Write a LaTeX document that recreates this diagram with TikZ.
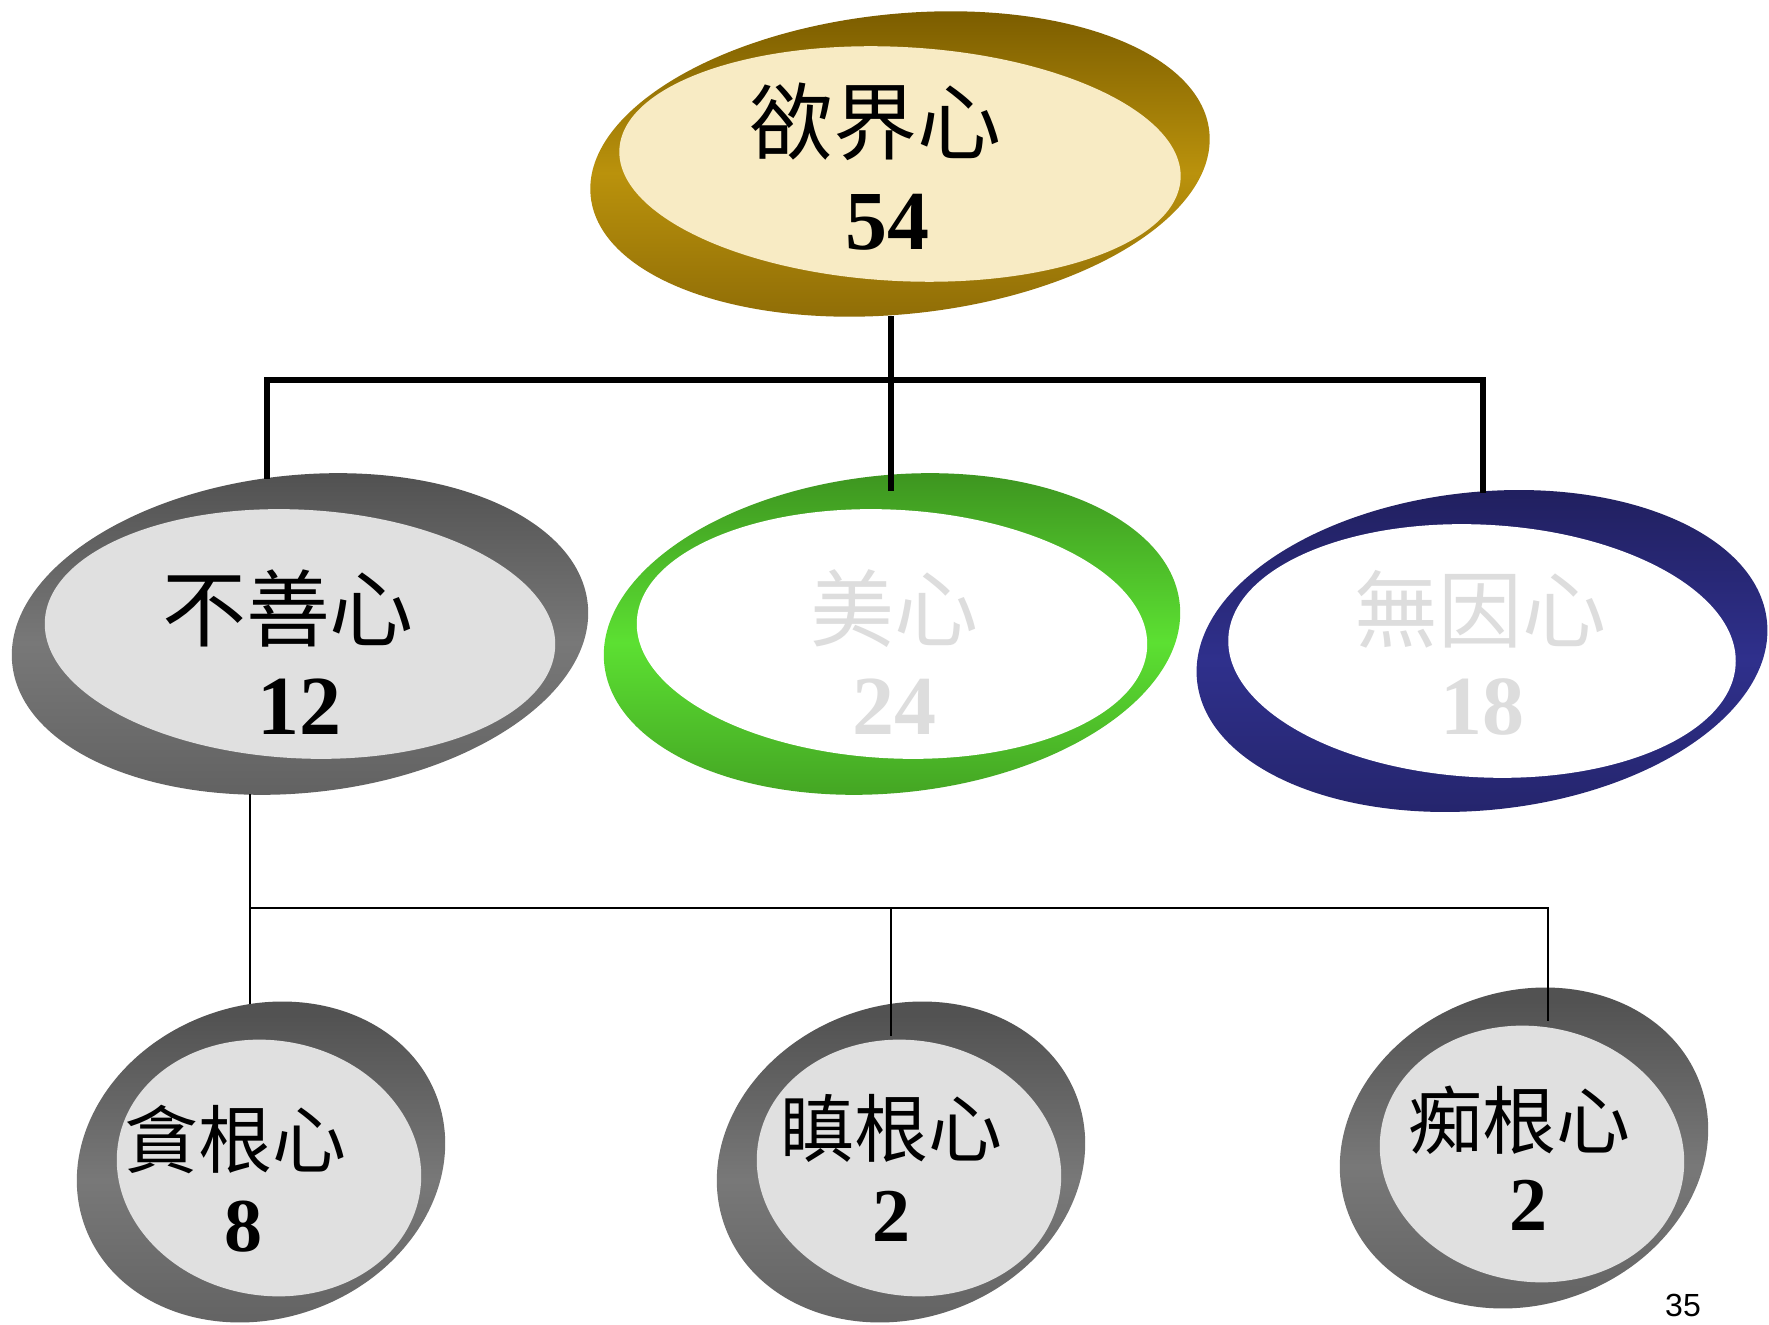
\documentclass[tikz,border=0pt]{standalone}
\usepackage{fontspec}
\setmainfont{Liberation Serif}
\newfontfamily\cjk{Noto Sans CJK TC}
\newfontfamily\pagefont{Liberation Sans}
\usetikzlibrary{shapes.geometric}
\definecolor{gold1}{RGB}{125,94,0}
\definecolor{gold2}{RGB}{186,146,12}
\definecolor{gold3}{RGB}{140,106,6}
\definecolor{gray1}{RGB}{82,82,82}
\definecolor{gray2}{RGB}{120,120,120}
\definecolor{gray3}{RGB}{96,96,96}
\definecolor{green1}{RGB}{62,150,32}
\definecolor{green2}{RGB}{92,224,50}
\definecolor{green3}{RGB}{66,160,34}
\definecolor{navy1}{RGB}{33,32,96}
\definecolor{navy2}{RGB}{47,48,140}
\definecolor{navy3}{RGB}{36,36,106}
\definecolor{cream}{RGB}{248,235,196}
\definecolor{lightgray}{RGB}{224,224,224}
\definecolor{fadegray}{RGB}{221,221,221}
% #1 x, #2 y, #3 outer radii, #4 inner radii, #5 outer style, #6 inner style, #7 angle, #8 dx, #9 dy
\newcommand\ringpair[9]{%
  \shade[#5, rotate around={#7:(#1,#2)}] (#1,#2) ellipse [#3];
  \fill[#6, rotate around={-#7/2:(#1+#8,#2+#9)}] (#1+#8,#2+#9) ellipse [#4];}
\begin{document}
\begin{tikzpicture}[x=0.5pt,y=-0.5pt,
  goldring/.style={top color=gold1, bottom color=gold3, middle color=gold2},
  grayring/.style={top color=gray1, bottom color=gray3, middle color=gray2},
  greenring/.style={top color=green1, bottom color=green3, middle color=green2},
  navyring/.style={top color=navy1, bottom color=navy3, middle color=navy2},
  ringnode/.style={ellipse, inner sep=0pt},
  cjkbig/.style={font=\cjk\fontsize{42}{42}\selectfont, inner sep=0pt},
  numbig/.style={font=\bfseries\fontsize{42}{42}\selectfont, inner sep=0pt},
  cjksmall/.style={font=\cjk\fontsize{37}{37}\selectfont, inner sep=0pt},
  numsmall/.style={font=\bfseries\fontsize{38}{38}\selectfont, inner sep=0pt},
  faded/.style={text=fadegray},
  thickline/.style={line width=2.8pt, line join=miter},
  thinline/.style={line width=0.85pt}]
\useasboundingbox (0,0) rectangle (1769,1325);
\clip (0,0) rectangle (1769,1325);
\fill[white] (0,0) rectangle (1769,1325);

% rings
\ringpair{900}{164}{x radius=311, y radius=150}{x radius=281, y radius=117}{goldring}{fill=cream}{6}{0}{0}
\ringpair{300}{634}{x radius=289.3, y radius=158.8}{x radius=255.5, y radius=124.3}{grayring}{fill=lightgray}{6}{0}{0}
\ringpair{892}{634}{x radius=289.3, y radius=158.8}{x radius=255.5, y radius=124.3}{greenring}{fill=white}{6}{0}{0}
\ringpair{1482}{651}{x radius=286.5, y radius=159}{x radius=254, y radius=126.3}{navyring}{fill=white}{6}{0}{0}
\ringpair{261}{1162}{x radius=187.5, y radius=156.5}{x radius=152.9, y radius=127.5}{grayring}{fill=lightgray}{20}{8}{6}
\ringpair{901}{1162}{x radius=187.5, y radius=156.5}{x radius=152.9, y radius=127.5}{grayring}{fill=lightgray}{20}{8}{6}
\ringpair{1524}{1148}{x radius=187.5, y radius=156.5}{x radius=152.9, y radius=127.5}{grayring}{fill=lightgray}{20}{8}{6}

% ring nodes
\node[ringnode, minimum width=311pt, minimum height=152pt] (T) at (900,164) {};
\node[ringnode, minimum width=289pt, minimum height=160pt] (L) at (300,634) {};
\node[ringnode, minimum width=289pt, minimum height=160pt] (M) at (892,634) {};
\node[ringnode, minimum width=287pt, minimum height=160pt] (R) at (1482,651) {};
\node[ringnode, minimum width=184pt, minimum height=160pt] (B1) at (261,1162) {};
\node[ringnode, minimum width=184pt, minimum height=160pt] (B2) at (901,1162) {};
\node[ringnode, minimum width=184pt, minimum height=160pt] (B3) at (1524,1148) {};

% texts
\node[cjkbig] (Tt) at (875,122) {欲界心};
\node[numbig] (Tn) at (887,222) {54};
\node[cjkbig] (Lt) at (288,609) {不善心};
\node[numbig] (Ln) at (299,707) {12};
\node[cjkbig, faded] (Mt) at (894,609) {美心};
\node[numbig, faded] (Mn) at (894,707) {24};
\node[cjkbig, faded] (Rt) at (1480,609) {無因心};
\node[numbig, faded] (Rn) at (1482,707) {18};
\node[cjksmall] (B1t) at (235,1139) {貪根心};
\node[numsmall] (B1n) at (243,1227) {8};
\node[cjksmall] (B2t) at (891,1128) {瞋根心};
\node[numsmall] (B2n) at (891,1216) {2};
\node[cjksmall] (B3t) at (1519,1120) {痴根心};
\node[numsmall] (B3n) at (1528,1205) {2};

% connector coordinates
\coordinate (jT) at (891,380);
\coordinate (Ltop) at (267,479);
\coordinate (Mtop) at (891,491);
\coordinate (Rtop) at (1483,493);
\coordinate (jL) at (250,908);
\coordinate (B1top) at (250,1004);
\coordinate (B2top) at (891,1036);
\coordinate (B3top) at (1548,1021);

\draw[thickline] (T.south -| jT) -- (Mtop);
\draw[thickline] (Ltop) -- (Ltop |- jT) -- (Rtop |- jT) -- (Rtop);
\draw[thinline] (L.south -| jL) -- (B1top);
\draw[thinline] (jL) -- (B3top |- jL) -- (B3top);
\draw[thinline] (B2top |- jL) -- (B2top);

\node[font=\pagefont\fontsize{16}{16}\selectfont, anchor=south, inner sep=0pt] (pg) at (1683,1317) {35};
\end{tikzpicture}
\end{document}
